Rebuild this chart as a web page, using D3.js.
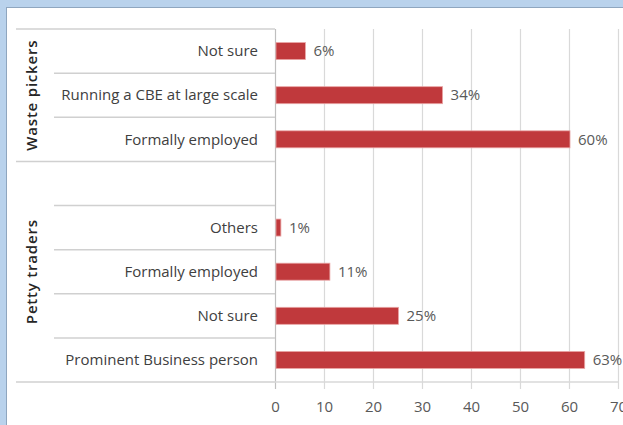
<!DOCTYPE html>
<html>
<head>
<meta charset="utf-8">
<script src="https://cdn.jsdelivr.net/npm/d3@7"></script>
<style>
  body { margin: 0; background: #b9d2ec; }
  svg { display: block; }
  text { font-family: "Open Sans", "Liberation Sans", sans-serif; }
</style>
</head>
<body>
<script>
// categories, top to bottom (blank row separates the two groups)
var categories = ["ws_notsure", "ws_cbe", "ws_formal", "gap", "pt_others", "pt_formal", "pt_notsure", "pt_business"];
var categoryLabels = ["Not sure", "Running a CBE at large scale", "Formally employed", "", "Others", "Formally employed", "Not sure", "Prominent Business person"];
var values = [6, 34, 60, null, 1, 11, 25, 63];
var groups = ["Waste pickers", "Petty traders"];
var groupRows = [[0, 2], [3, 7]];
var xTicks = [0, 10, 20, 30, 40, 50, 60, 70];

var W = 623, H = 425;
var margin = {top: 29, left: 275, bottom: 43};

var svg = d3.select("body").append("svg")
    .attr("width", W)
    .attr("height", H);

// white panel with blue frame
svg.append("rect")
    .attr("x", 6.5).attr("y", 7.5)
    .attr("width", W).attr("height", H)
    .attr("fill", "#ffffff")
    .attr("stroke", "#8fa6bf");

var x = d3.scaleLinear()
    .domain([0, 70])
    .range([margin.left, 618]);

var y = d3.scaleBand()
    .domain(categories)
    .range([margin.top, H - margin.bottom]);

var rows = categories.map(function(c, i) {
  return {key: c, label: categoryLabels[i], value: values[i]};
});

// vertical gridlines
svg.append("g")
  .selectAll("line")
  .data(xTicks)
  .enter().append("line")
    .attr("x1", function(d) { return x(d) + 0.5; })
    .attr("x2", function(d) { return x(d) + 0.5; })
    .attr("y1", margin.top)
    .attr("y2", H - margin.bottom + 7)
    .attr("stroke", function(d) { return d === 0 ? "#bfbfbf" : "#d9d9d9"; })
    .attr("stroke-width", 1.2);

// x axis labels
var xAxis = svg.append("g")
    .attr("transform", "translate(0," + (H - margin.bottom) + ")")
    .call(d3.axisBottom(x).tickValues(xTicks).tickSize(0).tickPadding(19));
xAxis.select(".domain").remove();
xAxis.selectAll("text")
    .style("font-size", "15px")
    .attr("fill", "#595959");

// category axis separators
var sep = svg.append("g").attr("stroke", "#d0d0d0").attr("stroke-width", 1.5);
d3.range(categories.length + 1).forEach(function(i) {
  var yy = i < categories.length ? y(categories[i]) : y.range()[1];
  var outer = (i === 0 || i === 3 || i === categories.length);
  sep.append("line")
      .attr("x1", outer ? 16 : 54)
      .attr("x2", margin.left)
      .attr("y1", yy).attr("y2", yy);
});

// horizontal axis line along the bottom of the plot
svg.append("line")
    .attr("x1", margin.left).attr("x2", 618)
    .attr("y1", y.range()[1]).attr("y2", y.range()[1])
    .attr("stroke", "#d9d9d9").attr("stroke-width", 1.5);

// category labels
svg.append("g")
  .selectAll("text")
  .data(rows)
  .enter().append("text")
    .attr("x", margin.left - 17)
    .attr("y", function(d) { return y(d.key) + y.bandwidth() / 2; })
    .attr("dy", "0.35em")
    .attr("text-anchor", "end")
    .style("font-size", "15px")
    .attr("fill", "#404040")
    .text(function(d) { return d.label; });

// group labels (rotated)
svg.append("g")
  .selectAll("text")
  .data(groups)
  .enter().append("text")
    .attr("transform", function(d, i) {
      var y0 = y(categories[groupRows[i][0]]);
      var y1 = y(categories[groupRows[i][1]]) + y.bandwidth();
      return "translate(32," + ((y0 + y1) / 2) + ") rotate(-90)";
    })
    .attr("dy", "0.35em")
    .attr("text-anchor", "middle")
    .style("font-size", "15px")
    .style("font-weight", "600")
    .style("letter-spacing", "0.8px")
    .attr("fill", "#262626")
    .text(function(d) { return d; });

var barH = 17;
var bars = rows.filter(function(d) { return d.value !== null; });

svg.append("g")
  .selectAll("rect")
  .data(bars)
  .enter().append("rect")
    .attr("x", x(0) + 1)
    .attr("y", function(d) { return y(d.key) + (y.bandwidth() - barH) / 2; })
    .attr("width", function(d) { return x(d.value) - x(0); })
    .attr("height", barH)
    .attr("fill", "#c0393c")
    .attr("stroke", "#e9a5a5")
    .attr("stroke-width", 0.8);

// value labels
svg.append("g")
  .selectAll("text")
  .data(bars)
  .enter().append("text")
    .attr("x", function(d) { return x(d.value) + 9; })
    .attr("y", function(d) { return y(d.key) + y.bandwidth() / 2; })
    .attr("dy", "0.35em")
    .style("font-size", "15px")
    .attr("fill", "#595959")
    .text(function(d) { return d.value + "%"; });
</script>
</body>
</html>
